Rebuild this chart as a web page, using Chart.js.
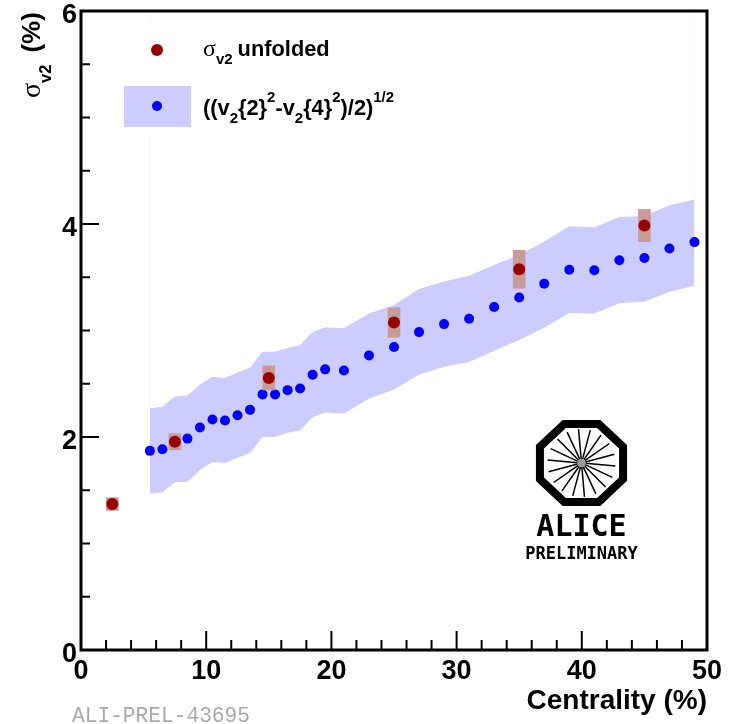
<!DOCTYPE html>
<html>
<head>
<meta charset="utf-8">
<title>sigma v2 vs centrality</title>
<script src="https://cdn.jsdelivr.net/npm/chart.js@4"></script>
<style>
body { margin: 0; background: #fff; }
canvas { display: block; }
</style>
</head>
<body>
<canvas id="myChart" width="736" height="724"></canvas>
<script>
//values
var bandX = [5.5, 6.5, 7.5, 8.5, 9.5, 10.5, 11.5, 12.5, 13.5, 14.5, 15.5, 16.5, 17.5, 18.5, 19.5, 21, 23, 25, 27, 29, 31, 33, 35, 37, 39, 41, 43, 45, 47, 49];
var bandHigh = [2.27, 2.285, 2.38, 2.39, 2.49, 2.565, 2.555, 2.605, 2.65, 2.8, 2.8, 2.835, 2.865, 2.985, 3.03, 3.02, 3.16, 3.24, 3.39, 3.46, 3.515, 3.615, 3.71, 3.835, 3.98, 3.97, 4.065, 4.075, 4.175, 4.23];
var bandLow = [1.47, 1.48, 1.575, 1.58, 1.69, 1.765, 1.755, 1.805, 1.85, 2.0, 2.0, 2.04, 2.06, 2.185, 2.23, 2.22, 2.36, 2.445, 2.585, 2.66, 2.705, 2.81, 2.91, 3.025, 3.165, 3.16, 3.255, 3.27, 3.365, 3.42];
var blueX = [5.5, 6.5, 8.5, 9.5, 10.5, 11.5, 12.5, 13.5, 14.5, 15.5, 16.5, 17.5, 18.5, 19.5, 21, 23, 25, 27, 29, 31, 33, 35, 37, 39, 41, 43, 45, 47, 49];
var blueY = [1.87, 1.885, 1.985, 2.09, 2.165, 2.155, 2.205, 2.255, 2.4, 2.4, 2.44, 2.455, 2.585, 2.635, 2.625, 2.765, 2.845, 2.985, 3.06, 3.11, 3.22, 3.31, 3.44, 3.57, 3.565, 3.66, 3.68, 3.77, 3.83];
var redX = [2.5, 7.5, 15, 25, 35, 45];
var redY = [1.37, 1.955, 2.555, 3.075, 3.575, 3.985];
var redErr = [0.06, 0.075, 0.113, 0.138, 0.178, 0.152];

//pair two arrays into {x, y} points
function zip(xs, ys){
    return xs.map(function(x, i){
        return {x: x, y: ys[i]};
    });
}

//draw a row of text pieces, each with its own font and baseline shift
function drawRuns(ctx, x, y, runs){
    runs.forEach(function(r){
        ctx.font = r.font;
        ctx.fillText(r.t, x, y + (r.dy || 0));
        x += ctx.measureText(r.t).width + (r.gap || 0);
    });
}

var B = "Liberation Sans";
var big = "bold 21.8px '" + B + "'";
var small = "bold 15px '" + B + "'";

//everything chart.js has no option for: inward ticks, frame, legend, logo
var decorations = {
    id: "decorations",
    afterDraw: function(chart){
        var ctx = chart.ctx;
        var area = chart.chartArea;
        var sx = chart.scales.x;
        var sy = chart.scales.y;
        ctx.save();
        ctx.strokeStyle = "#000";

        //inward ticks
        ctx.lineWidth = 2;
        sx.ticks.forEach(function(t){
            var px = sx.getPixelForValue(t.value);
            var len = t.value % 10 === 0 ? 19 : 10;
            ctx.beginPath();
            ctx.moveTo(px, area.bottom);
            ctx.lineTo(px, area.bottom - len);
            ctx.stroke();
        });
        sy.ticks.forEach(function(t){
            var py = sy.getPixelForValue(t.value);
            var len = t.value % 2 === 0 ? 18 : 9;
            ctx.beginPath();
            ctx.moveTo(area.left, py);
            ctx.lineTo(area.left + len, py);
            ctx.stroke();
        });

        //frame
        ctx.lineWidth = 3;
        ctx.strokeRect(area.left, area.top, area.right - area.left, area.bottom - area.top);

        //legend
        ctx.fillStyle = "#fff";
        ctx.fillRect(118, 22, 86, 113);
        ctx.fillStyle = "#ccccff";
        ctx.fillRect(124, 86, 67, 41);
        ctx.fillStyle = "#990000";
        ctx.beginPath();
        ctx.arc(157, 50, 6, 0, Math.PI * 2);
        ctx.fill();
        ctx.fillStyle = "#0000ff";
        ctx.beginPath();
        ctx.arc(157, 106, 5, 0, Math.PI * 2);
        ctx.fill();

        ctx.fillStyle = "#000";
        ctx.textAlign = "left";
        ctx.textBaseline = "alphabetic";
        drawRuns(ctx, 203, 56, [
            {t: "σ", font: "24px 'Liberation Serif'"},
            {t: "v2", font: small, dy: 8, gap: 5},
            {t: "unfolded", font: big}
        ]);
        drawRuns(ctx, 203, 115, [
            {t: "((v", font: big},
            {t: "2", font: small, dy: 8},
            {t: "{2}", font: big},
            {t: "2", font: small, dy: -13},
            {t: "-v", font: big},
            {t: "2", font: small, dy: 8},
            {t: "{4}", font: big},
            {t: "2", font: small, dy: -13},
            {t: ")/2)", font: big},
            {t: "1/2", font: small, dy: -13}
        ]);

        //y title has a subscript so it goes here and not in the scale options
        ctx.save();
        ctx.translate(40, 98);
        ctx.rotate(-Math.PI / 2);
        drawRuns(ctx, 0, 0, [
            {t: "σ", font: "28px 'Liberation Serif'"},
            {t: "v2", font: "bold 16.5px '" + B + "'", dy: 11, gap: 12},
            {t: "(%)", font: "bold 26px '" + B + "'"}
        ]);
        ctx.restore();

        //ALICE logo
        var cx = 581.5, cy = 463;
        ctx.strokeStyle = "#000";
        ctx.lineWidth = 8;
        ctx.beginPath();
        for(var i = 0; i < 8; i++){
            var a = Math.PI / 8 + i * Math.PI / 4;
            ctx.lineTo(cx + 45 * Math.cos(a), cy + 42.2 * Math.sin(a));
        }
        ctx.closePath();
        ctx.stroke();
        ctx.lineWidth = 1.5;
        for(var j = 0; j < 18; j++){
            var b = Math.PI / 36 + j * Math.PI / 9;
            ctx.beginPath();
            ctx.moveTo(cx + 4 * Math.cos(b), cy + 4 * Math.sin(b));
            ctx.lineTo(cx + 34 * Math.cos(b), cy + 34 * Math.sin(b));
            ctx.stroke();
        }
        ctx.fillStyle = "#999";
        ctx.beginPath();
        ctx.arc(cx, cy, 4, 0, Math.PI * 2);
        ctx.fill();
        ctx.fillStyle = "#000";
        ctx.textAlign = "center";
        ctx.font = "bold 30px 'DejaVu Sans Mono'";
        ctx.fillText("ALICE", cx, 536);
        ctx.font = "bold 17px 'DejaVu Sans Mono'";
        ctx.fillText("PRELIMINARY", cx, 559);

        //plot id under the axis
        ctx.textAlign = "left";
        ctx.fillStyle = "#aaaaaa";
        ctx.font = "21.2px 'Liberation Mono'";
        ctx.fillText("ALI-PREL-43695", 72, 722);
        ctx.restore();
    }
};

var ctx = document.getElementById("myChart");

var myChart = new Chart(ctx, {
    type: "scatter",
    plugins: [decorations],
    data: {
        datasets: [
            //faint leftovers of the band edges, running up above it
            {
                type: "line",
                data: [{x: 5.5, y: bandHigh[0]}, {x: 5.5, y: 6}],
                borderColor: "rgba(204,204,255,0.3)",
                borderWidth: 1,
                pointRadius: 0,
                order: 6
            },
            {
                type: "line",
                data: [{x: 49, y: bandHigh[bandHigh.length - 1]}, {x: 49, y: 6}],
                borderColor: "rgba(204,204,255,0.12)",
                borderWidth: 1,
                pointRadius: 0,
                order: 6
            },
            {
                type: "line",
                label: "band high",
                data: zip(bandX, bandHigh),
                borderWidth: 0,
                pointRadius: 0,
                backgroundColor: "#ccccff",
                fill: "+1",
                order: 5
            },
            {
                type: "line",
                label: "band low",
                data: zip(bandX, bandLow),
                borderWidth: 0,
                pointRadius: 0,
                fill: false,
                order: 5
            },
            {
                label: "((v2{2}^2-v2{4}^2)/2)^1/2",
                data: zip(blueX, blueY),
                backgroundColor: "#0000ff",
                borderWidth: 0,
                pointRadius: 5,
                order: 3
            },
            {
                type: "bar",
                label: "syst",
                data: redX.map(function(x, i){
                    return {x: x, y: [redY[i] - redErr[i], redY[i] + redErr[i]]};
                }),
                backgroundColor: "#c89a98",
                barThickness: 12,
                grouped: false,
                order: 2
            },
            {
                label: "sigma v2 unfolded",
                data: zip(redX, redY),
                backgroundColor: "#990000",
                borderWidth: 0,
                pointRadius: 6,
                order: 1
            }
        ]
    },
    options: {
        responsive: false,
        animation: false,
        layout: {
            padding: {left: 0, right: 29, top: 11, bottom: 0}
        },
        plugins: {
            legend: {display: false},
            tooltip: {enabled: false}
        },
        scales: {
            x: {
                type: "linear",
                min: 0,
                max: 50,
                offset: false,
                border: {display: false},
                grid: {display: false, drawTicks: false},
                ticks: {
                    stepSize: 2,
                    autoSkip: false,
                    maxRotation: 0,
                    padding: 5,
                    color: "#000",
                    font: {family: B, weight: "bold", size: 27},
                    callback: function(v){
                        return v % 10 === 0 ? v : "";
                    }
                },
                title: {
                    display: true,
                    text: "Centrality (%)",
                    align: "end",
                    color: "#000",
                    font: {family: B, weight: "bold", size: 28},
                    padding: {top: 0, bottom: 6}
                },
                afterFit: function(s){
                    s.height = 74;
                    s.paddingLeft = 0;
                    s.paddingRight = 0;
                }
            },
            y: {
                min: 0,
                max: 6,
                border: {display: false},
                grid: {display: false, drawTicks: false},
                ticks: {
                    stepSize: 0.5,
                    autoSkip: false,
                    padding: 4,
                    labelOffset: 5,
                    color: "#000",
                    font: {family: B, weight: "bold", size: 27},
                    callback: function(v){
                        return v % 2 === 0 ? v : "";
                    }
                },
                afterFit: function(s){
                    s.width = 81;
                    s.paddingTop = 0;
                    s.paddingBottom = 0;
                }
            }
        }
    }
});
</script>
</body>
</html>
